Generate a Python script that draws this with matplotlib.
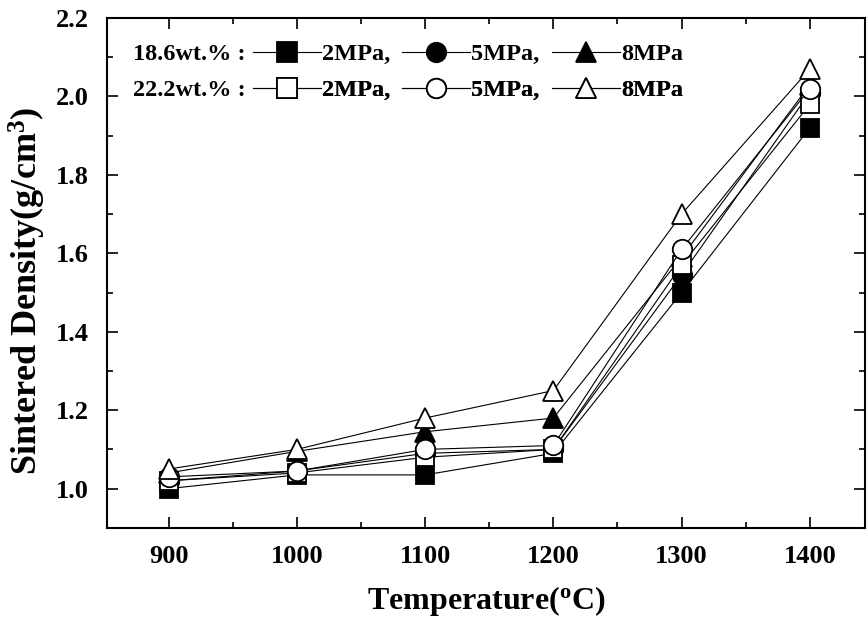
import matplotlib
matplotlib.use("Agg")
import matplotlib.pyplot as plt
from matplotlib.lines import Line2D
from matplotlib.ticker import MultipleLocator

plt.rcParams['font.family'] = ['Liberation Serif', 'DejaVu Serif']
plt.rcParams['font.weight'] = 'bold'
plt.rcParams['mathtext.fontset'] = 'custom'
plt.rcParams['mathtext.rm'] = 'Liberation Serif:bold'
plt.rcParams['mathtext.bf'] = 'Liberation Serif:bold'
plt.rcParams['mathtext.it'] = 'Liberation Serif:bold'

temperature = [900, 1000, 1100, 1200, 1300, 1400]

# 18.6 wt.%
d186_2mpa = [1.00, 1.035, 1.035, 1.09, 1.50, 1.92]
d186_5mpa = [1.02, 1.045, 1.09, 1.10, 1.545, 2.01]
d186_8mpa = [1.04, 1.095, 1.145, 1.18, 1.59, 2.03]
# 22.2 wt.%
d222_2mpa = [1.02, 1.04, 1.08, 1.10, 1.57, 1.98]
d222_5mpa = [1.03, 1.045, 1.10, 1.11, 1.61, 2.02]
d222_8mpa = [1.05, 1.10, 1.18, 1.25, 1.70, 2.07]

group_labels = ['18.6wt.% :', '22.2wt.% :']
pressure_labels = ['2MPa,', '5MPa,', '8MPa']

fig = plt.figure(figsize=(8.67, 6.21), dpi=100)
ax = fig.add_axes([0.1234, 0.150, 0.8743, 0.821])

ms = 13
mew = 1.3
lw = 0.8
series = [
    (d186_2mpa, 's', 'black', ms),
    (d186_5mpa, 'o', 'black', ms + 1),
    (d186_8mpa, '^', 'black', ms + 2),
    (d222_2mpa, 's', 'white', ms),
    (d222_5mpa, 'o', 'white', ms + 1),
    (d222_8mpa, '^', 'white', ms + 2),
]
for vals, mk, fc, size in series:
    ax.plot(temperature, vals, color='black', lw=lw, marker=mk, markersize=size,
            markerfacecolor=fc, markeredgecolor='black', markeredgewidth=mew)

ax.set_xlim(852, 1443)
ax.set_ylim(0.9, 2.2)
ax.xaxis.set_major_locator(MultipleLocator(100))
ax.xaxis.set_minor_locator(MultipleLocator(50))
ax.yaxis.set_major_locator(MultipleLocator(0.2))
ax.yaxis.set_minor_locator(MultipleLocator(0.1))
ax.yaxis.set_major_formatter(matplotlib.ticker.FormatStrFormatter('%.1f'))
ax.tick_params(which='both', direction='in', top=True, right=True, width=1.2)
ax.tick_params(which='major', length=8, labelsize=19)
ax.tick_params(axis='x', which='major', pad=12)
ax.tick_params(axis='y', which='major', pad=13)
ax.tick_params(which='minor', length=4)
for sp in ax.spines.values():
    sp.set_linewidth(1.5)
for lab in ax.get_xticklabels() + ax.get_yticklabels():
    lab.set_fontweight('bold')

ax.set_xlabel(r'Temperature($^{\mathbf{o}}$C)', fontsize=23, fontweight='bold', labelpad=12)
ax.set_ylabel(r'Sintered Density(g/cm$^{\mathbf{3}}$)', fontsize=26, fontweight='bold')
ax.yaxis.set_label_coords(-0.078, 0.465)

# legend rows
for row, (glabel, fc) in enumerate(zip(group_labels, ['black', 'white'])):
    handles = []
    for mk in ['s', 'o', '^']:
        handles.append(Line2D([], [], color='black', lw=lw, marker=mk, markersize=ms + 1,
                              markerfacecolor=fc, markeredgecolor='black', markeredgewidth=mew))
    ypos = 0.929 - row * 0.0706
    ax.text(0.034, ypos, glabel, transform=ax.transAxes, fontsize=17.5, fontweight='bold',
            va='center', ha='left')
    leg = ax.legend(handles, pressure_labels, ncol=3, frameon=False, loc='center left',
                    bbox_to_anchor=(0.192, ypos), handlelength=2.8,
                    handletextpad=0.05, columnspacing=0.5, borderpad=0, borderaxespad=0,
                    prop={'weight': 'bold', 'size': 17.5})
    ax.add_artist(leg)

fig.savefig('out.png', dpi=100)
